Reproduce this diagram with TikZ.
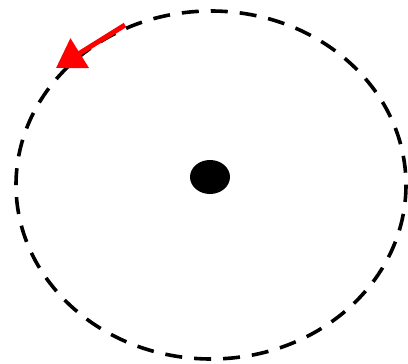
\documentclass[tikz,border=0pt]{standalone}
\usetikzlibrary{arrows.meta}
\begin{document}
\begin{tikzpicture}[x=1pt,y=-1pt,
  orbit/.style={line width=3.6pt,dash pattern=on 17pt off 12pt},
  motion/.style={red,line width=5pt,-{Triangle[length=28pt,width=34pt]}}]
\useasboundingbox (0,0) rectangle (408,364);
\draw[orbit] (211,185) ellipse [x radius=195, y radius=174];
\coordinate (c) at (210,177);
\fill (c) ellipse [x radius=20, y radius=17];
\coordinate (s) at (125,25);
\coordinate (e) at (56,68);
\draw[motion] (s) -- (e);
\end{tikzpicture}
\end{document}
